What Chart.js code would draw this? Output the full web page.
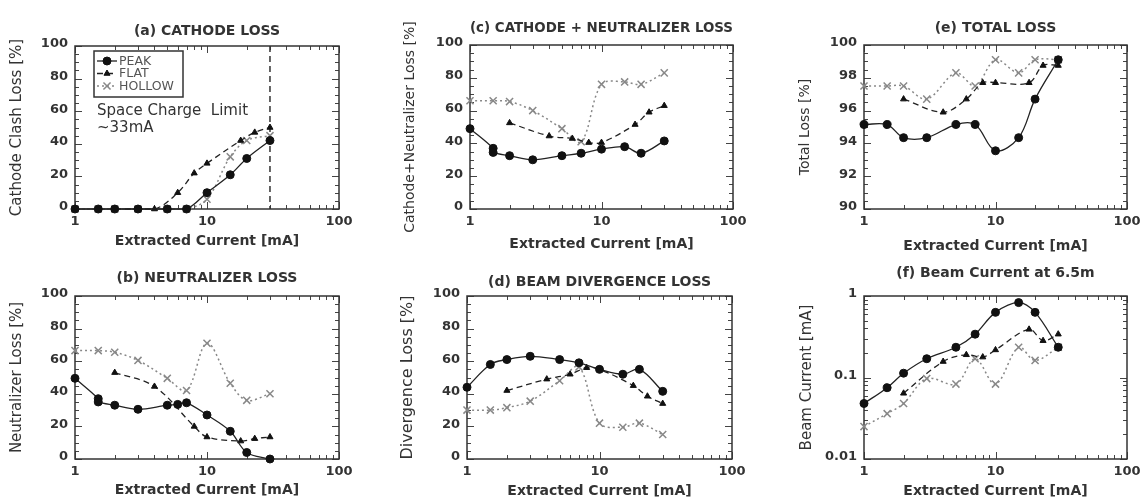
<!DOCTYPE html>
<html>
<head>
<meta charset="utf-8">
<script src="https://cdn.jsdelivr.net/npm/chart.js@4.4.1/dist/chart.umd.min.js"></script>
<style>
html, body { margin: 0; padding: 0; background: #fff; width: 1144px; height: 497px; overflow: hidden; }
canvas { position: absolute; }
</style>
</head>
<body>
<canvas id="pa"></canvas>
<canvas id="pc"></canvas>
<canvas id="pe"></canvas>
<canvas id="pb"></canvas>
<canvas id="pd"></canvas>
<canvas id="pf"></canvas>
<script>
// extracted current [mA] for each beam profile
const peakCurrent   = [1, 1.5, 1.5, 2, 3, 5, 6, 7, 10, 15, 20, 30];
const flatCurrent   = [2, 4, 6, 8, 10, 18, 23, 30];
const hollowCurrent = [1, 1.5, 2, 3, 5, 7, 10, 15, 20, 30];

// (a) cathode clash loss [%]
const cathodePeak   = [0, 0, null, 0, 0, 0, null, 0, 10, 21, 31, 42];
const cathodeFlat   = [0, 0, 10, 22, 28, 42, 47, 50];
const cathodeHollow = [0, 0, 0, 0, 0, 0, 6, 32, 42, 45];
const spaceChargeLimit = 30;

// (b) neutralizer loss [%]
const neutPeak   = [49.5, 37, 35, 33, 30.5, 33, 33.5, 34.5, 27, 17, 4, 0];
const neutFlat   = [53, 44.5, null, 20, 13.5, 11, 12.5, 13.5];
const neutHollow = [66.5, 66.5, 65.5, 60.5, 49.5, 42, 71, 46.5, 36, 40];

// (c) cathode + neutralizer loss [%]
const cnPeak   = [49, 37, 34.5, 32.5, 30, 32.5, null, 34, 36.5, 38, 34, 41.5];
const cnFlat   = [52.5, 44.5, 43, 40.5, 40.5, 51.5, 59, 63];
const cnHollow = [66, 66, 65.5, 60, 49, 41, 76, 77.5, 76, 83];

// (d) divergence loss [%]
const divPeak   = [44, 58, null, 61, 63, 61, null, 59, 55, 52, 55, 41.5];
const divFlat   = [42, 49, 52, 56, 55, 45, 38.5, 34];
const divHollow = [30, 30, 31.5, 35.5, 48, 56.5, 22, 19.5, 22, 15];

// (e) total loss [%]
const totalPeak   = [95.15, 95.15, null, 94.35, 94.35, 95.15, null, 95.15, 93.55, 94.35, 96.7, 99.1];
const totalFlat   = [96.7, 95.9, 96.7, 97.7, 97.7, 97.7, 98.75, 98.75];
const totalHollow = [97.5, 97.5, 97.5, 96.7, 98.3, 97.5, 99.1, 98.3, 99.1, 99.1];

// (f) beam current at 6.5 m [mA]
const beamPeak   = [0.048, 0.075, null, 0.113, 0.17, 0.235, null, 0.34, 0.63, 0.83, 0.63, 0.235];
const beamFlat   = [0.064, 0.157, 0.19, 0.178, 0.218, 0.39, 0.283, 0.34];
const beamHollow = [0.025, 0.036, 0.048, 0.097, 0.083, 0.17, 0.083, 0.235, 0.162, 0.235];

const seriesNames = ['PEAK', 'FLAT', 'HOLLOW'];

const FONT = "'DejaVu Sans', 'Liberation Sans', sans-serif";
const INK = '#333';

const styles = {
    PEAK:   { borderColor: '#222', backgroundColor: '#111', pointBorderColor: '#111', borderWidth: 1.3, borderDash: [], pointStyle: 'circle', pointRadius: 4, pointBorderWidth: 1 },
    FLAT:   { borderColor: '#222', backgroundColor: '#111', pointBorderColor: '#111', borderWidth: 1.3, borderDash: [6, 4], pointStyle: 'triangle', pointRadius: 3.5, pointBorderWidth: 1 },
    HOLLOW: { borderColor: '#888', backgroundColor: '#888', pointBorderColor: '#888', borderWidth: 1.5, borderDash: [2, 3], pointStyle: 'crossRot', pointRadius: 5, pointBorderWidth: 1.5 }
};

function series(name, xs, ys) {
    const pts = xs.map((x, i) => ({ x: x, y: ys[i] })).filter(p => p.y !== null);
    return Object.assign({ label: name, data: pts, tension: 0.35, clip: false, fill: false }, styles[name]);
}

function logMarks(min, max) {
    const major = [], minor = [];
    for (let d = min; d <= max * 1.0001; d *= 10) {
        major.push(d);
        if (d < max * 0.999) for (let k = 2; k <= 9; k++) minor.push(d * k);
    }
    return { major, minor };
}

function linMarks(min, max, step, minorStep) {
    const major = [], minor = [];
    for (let v = min; v <= max + 1e-9; v += step) major.push(+v.toFixed(4));
    for (let v = min; v <= max + 1e-9; v += minorStep) minor.push(+v.toFixed(4));
    return { major, minor };
}

// box frame with inward ticks on all four sides
function framePlugin(p) {
    return {
        id: 'frame',
        beforeDatasetsDraw(chart) {
            const { ctx, chartArea: a, scales } = chart;
            const xm = logMarks(1, 100);
            const ym = p.yType === 'logarithmic' ? logMarks(p.yMin, p.yMax) : linMarks(p.yMin, p.yMax, p.yStep, p.yMinor);
            ctx.save();
            ctx.strokeStyle = '#444';
            ctx.lineWidth = 1;
            ctx.beginPath();
            const tick = (vals, len, horiz) => vals.forEach(v => {
                if (horiz) {
                    const px = Math.round(scales.x.getPixelForValue(v)) + 0.5;
                    ctx.moveTo(px, a.bottom); ctx.lineTo(px, a.bottom - len);
                    ctx.moveTo(px, a.top); ctx.lineTo(px, a.top + len);
                } else {
                    const py = Math.round(scales.y.getPixelForValue(v)) + 0.5;
                    ctx.moveTo(a.left, py); ctx.lineTo(a.left + len, py);
                    ctx.moveTo(a.right, py); ctx.lineTo(a.right - len, py);
                }
            });
            tick(xm.major, 7, true); tick(xm.minor, 4, true);
            tick(ym.major, 7, false); tick(ym.minor, 4, false);
            ctx.stroke();
            ctx.strokeStyle = '#333';
            ctx.lineWidth = 1.5;
            ctx.strokeRect(a.left, a.top, a.right - a.left, a.bottom - a.top);
            ctx.restore();
        }
    };
}

const cathodeExtras = {
    id: 'cathodeExtras',
    beforeDatasetsDraw(chart) {
        const { ctx, chartArea: a, scales } = chart;
        const x = scales.x.getPixelForValue(spaceChargeLimit);
        ctx.save();
        ctx.strokeStyle = '#333';
        ctx.lineWidth = 1.5;
        ctx.setLineDash([6, 4]);
        ctx.beginPath();
        ctx.moveTo(x, a.top); ctx.lineTo(x, a.bottom);
        ctx.stroke();
        ctx.setLineDash([]);
        ctx.fillStyle = INK;
        ctx.font = '15px ' + FONT;
        ctx.textBaseline = 'middle';
        ctx.fillText('Space Charge  Limit', a.left + 22, 111);
        ctx.fillText('~33mA', a.left + 22, 128);
        ctx.restore();
    },
    afterDatasetsDraw(chart) {
        const { ctx, chartArea: a } = chart;
        const bx = a.left + 19, by = a.top + 5, bw = 89, bh = 46;
        ctx.save();
        ctx.fillStyle = '#fff';
        ctx.fillRect(bx, by, bw, bh);
        ctx.strokeStyle = '#333';
        ctx.lineWidth = 1.5;
        ctx.strokeRect(bx, by, bw, bh);
        chart.data.datasets.forEach((ds, i) => {
            const y = by + 10 + i * 12.5;
            ctx.strokeStyle = ds.borderColor;
            ctx.lineWidth = ds.borderWidth;
            ctx.setLineDash(ds.borderDash);
            ctx.beginPath();
            ctx.moveTo(bx + 3, y); ctx.lineTo(bx + 23, y);
            ctx.stroke();
            ctx.setLineDash([]);
            ctx.fillStyle = ds.backgroundColor;
            ctx.strokeStyle = ds.pointBorderColor;
            ctx.lineWidth = ds.pointBorderWidth;
            Chart.helpers.drawPoint(ctx, { pointStyle: ds.pointStyle, radius: ds.pointRadius, rotation: 0, borderWidth: ds.pointBorderWidth }, bx + 13, y);
            ctx.fillStyle = '#555';
            ctx.font = '12.5px ' + FONT;
            ctx.textBaseline = 'middle';
            ctx.fillText(ds.label, bx + 25, y + 0.5);
        });
        ctx.restore();
    }
};

const panels = [
    { id: 'pa', x: 0, y: 0, w: 380, h: 256, area: { l: 75, r: 339, t: 46, b: 209 }, titleY: 31, xTitleY: 241,
      title: '(a) CATHODE LOSS', yTitle: 'Cathode Clash Loss [%]', yTitleX: 17, yTitleSize: 15,
      yType: 'linear', yMin: 0, yMax: 100, yStep: 20, yMinor: 5,
      data: [cathodePeak, cathodeFlat, cathodeHollow], extras: [cathodeExtras] },
    { id: 'pc', x: 380, y: 0, w: 380, h: 256, area: { l: 90, r: 353, t: 45, b: 209 }, titleY: 28, xTitleY: 244,
      title: '(c) CATHODE + NEUTRALIZER LOSS', yTitle: 'Cathode+Neutralizer Loss [%]', yTitleX: 30, yTitleSize: 14,
      yType: 'linear', yMin: 0, yMax: 100, yStep: 20, yMinor: 5,
      data: [cnPeak, cnFlat, cnHollow], extras: [] },
    { id: 'pe', x: 760, y: 0, w: 384, h: 256, area: { l: 104, r: 367, t: 45, b: 209 }, titleY: 28, xTitleY: 246,
      title: '(e) TOTAL LOSS', yTitle: 'Total Loss [%]', yTitleX: 45, yTitleSize: 14,
      yType: 'linear', yMin: 90, yMax: 100, yStep: 2, yMinor: 0.5,
      data: [totalPeak, totalFlat, totalHollow], extras: [] },
    { id: 'pb', x: 0, y: 250, w: 380, h: 250, area: { l: 75, r: 339, t: 46, b: 209 }, titleY: 28, xTitleY: 240,
      title: '(b) NEUTRALIZER LOSS', yTitle: 'Neutralizer Loss [%]', yTitleX: 17, yTitleSize: 15,
      yType: 'linear', yMin: 0, yMax: 100, yStep: 20, yMinor: 5,
      data: [neutPeak, neutFlat, neutHollow], extras: [] },
    { id: 'pd', x: 380, y: 250, w: 380, h: 250, area: { l: 87, r: 352, t: 46, b: 209 }, titleY: 32, xTitleY: 241,
      title: '(d) BEAM DIVERGENCE LOSS', yTitle: 'Divergence Loss [%]', yTitleX: 28, yTitleSize: 16,
      yType: 'linear', yMin: 0, yMax: 100, yStep: 20, yMinor: 5,
      data: [divPeak, divFlat, divHollow], extras: [] },
    { id: 'pf', x: 760, y: 250, w: 384, h: 250, area: { l: 104, r: 367, t: 46, b: 209 }, titleY: 23, xTitleY: 241,
      title: '(f) Beam Current at 6.5m', yTitle: 'Beam Current [mA]', yTitleX: 47, yTitleSize: 15,
      yType: 'logarithmic', yMin: 0.01, yMax: 1,
      data: [beamPeak, beamFlat, beamHollow], extras: [] }
];

const currents = [peakCurrent, flatCurrent, hollowCurrent];

panels.forEach(p => {
    const canvas = document.getElementById(p.id);
    canvas.width = p.w;
    canvas.height = p.h;
    canvas.style.left = p.x + 'px';
    canvas.style.top = p.y + 'px';

    const titleLH = 14 * 1.2;
    const titlePadTop = p.titleY - titleLH / 2;
    const titlePadBottom = p.area.t - titlePadTop - titleLH;
    const xTitleLH = 14 * 1.2;
    const yTitleLH = p.yTitleSize * 1.2;

    const yScale = {
        type: p.yType, min: p.yMin, max: p.yMax,
        grid: { display: false, drawTicks: false },
        border: { display: false },
        ticks: { color: INK, font: { family: FONT, size: 13, weight: 'bold' }, padding: 7, labelOffset: -2,
                 callback: v => String(v) },
        title: { display: true, text: p.yTitle, color: INK,
                 font: { family: FONT, size: p.yTitleSize, lineHeight: 1.2 },
                 padding: { top: p.yTitleX - yTitleLH / 2, bottom: 0 } },
        afterFit: s => { s.width = p.area.l; s.paddingTop = 0; s.paddingBottom = 0; }
    };
    if (p.yType === 'logarithmic') {
        yScale.afterBuildTicks = s => { s.ticks = [0.01, 0.1, 1].map(v => ({ value: v })); };
    } else {
        yScale.ticks.stepSize = p.yStep;
    }

    new Chart(canvas, {
        type: 'line',
        data: { datasets: seriesNames.map((n, i) => series(n, currents[i], p.data[i])) },
        options: {
            responsive: false,
            animation: false,
            devicePixelRatio: 1,
            layout: { padding: { left: 0, top: 0, bottom: 0, right: p.w - p.area.r } },
            plugins: {
                legend: { display: false },
                tooltip: { enabled: false },
                title: { display: true, text: p.title, fullSize: false, color: INK,
                         font: { family: FONT, size: 14, weight: 'bold', lineHeight: 1.2 },
                         padding: { top: titlePadTop, bottom: titlePadBottom } }
            },
            scales: {
                x: {
                    type: 'logarithmic', min: 1, max: 100,
                    grid: { display: false, drawTicks: false },
                    border: { display: false },
                    afterBuildTicks: s => { s.ticks = [1, 10, 100].map(v => ({ value: v })); },
                    afterFit: s => { s.height = p.h - p.area.b; s.paddingLeft = 0; s.paddingRight = 0; },
                    ticks: { color: INK, font: { family: FONT, size: 13, weight: 'bold' }, padding: 5,
                             maxRotation: 0, autoSkip: false, callback: v => String(v) },
                    title: { display: true, text: 'Extracted Current [mA]', color: INK,
                             font: { family: FONT, size: 14, weight: 'bold', lineHeight: 1.2 },
                             padding: { top: 0, bottom: p.h - p.xTitleY - xTitleLH / 2 } }
                },
                y: yScale
            }
        },
        plugins: [framePlugin(p)].concat(p.extras)
    });
});
</script>
</body>
</html>
